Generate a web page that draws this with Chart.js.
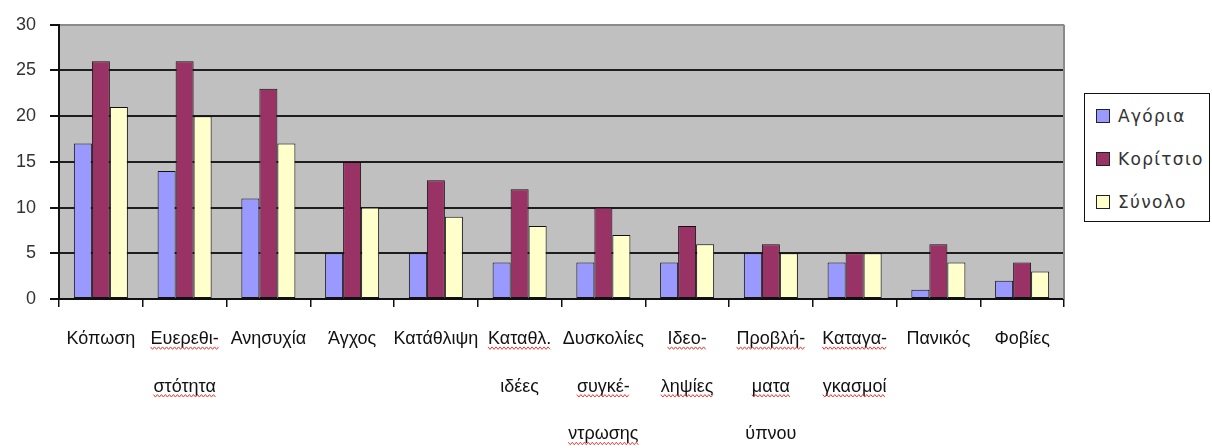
<!DOCTYPE html>
<html>
<head>
<meta charset="utf-8">
<script src="https://cdn.jsdelivr.net/npm/chart.js@4"></script>
<style>
  body{margin:0;background:#fff;}
  #wrap{position:relative;width:1212px;height:448px;}
  #legend{position:absolute;left:1084px;top:93px;width:124px;height:127px;border:1.5px solid #111;background:#fff;
    font-family:"DejaVu Sans",sans-serif;font-size:17px;color:#333;letter-spacing:1.3px;}
  #legend .item{position:absolute;left:11px;height:20px;line-height:20px;white-space:nowrap;}
  #legend .sw{display:inline-block;width:12px;height:12px;border:1px solid #222;vertical-align:middle;margin-right:8px;margin-top:-3px;}
</style>
</head>
<body>
<div id="wrap">
  <canvas id="chart"></canvas>
  <div id="legend"></div>
</div>
<script>
// Categories (multi-line as in the original)
const CATEGORIES = [
  ['Κόπωση'], ['Ευερεθι-','στότητα'], ['Ανησυχία'], ['Άγχος'], ['Κατάθλιψη'],
  ['Καταθλ.','ιδέες'], ['Δυσκολίες','συγκέ-','ντρωσης'], ['Ιδεο-','ληψίες'],
  ['Προβλή-','ματα','ύπνου'], ['Καταγα-','γκασμοί'], ['Πανικός'], ['Φοβίες']
];
// words carrying the red spell-check squiggle in the original
const MISSPELLED = ['Ευερεθι-','στότητα','Καταθλ.','συγκέ-','ντρωσης','Ιδεο-','ληψίες','Προβλή-','ματα','Καταγα-','γκασμοί'];
const SERIES_NAMES = ['Αγόρια','Κορίτσιο','Σύνολο'];
const BOYS  = [17,14,11,5,5,4,4,4,5,4,1,2];
const GIRLS = [26,26,23,15,13,12,10,8,6,5,6,4];
const TOTAL = [21,20,17,10,9,8,7,6,5,5,4,3];
const Y_MAX = 30, Y_STEP = 5;

const COLORS = ['#9999FF','#993366','#FFFFCC'];
const X_FONT = 18, X_LINE = 2.65, X_PAD = 8, X_TICK = 8;

// gray plot area, right border, squiggles
const plotBg = {
  id:'plotBg',
  beforeDraw(chart){
    const {ctx, chartArea:a} = chart;
    ctx.save();
    ctx.fillStyle = '#C0C0C0';
    ctx.fillRect(a.left, a.top, a.right-a.left, a.bottom-a.top);
    ctx.restore();
  },
  afterDatasetsDraw(chart){
    const {ctx, chartArea:a} = chart;
    ctx.save();
    ctx.strokeStyle = '#8a8a8a';
    ctx.lineWidth = 2;
    ctx.beginPath();
    ctx.moveTo(a.right, a.top); ctx.lineTo(a.right, a.bottom);
    ctx.stroke();
    ctx.restore();
  },
  afterDraw(chart){
    const ctx = chart.ctx, xs = chart.scales.x;
    const lh = X_FONT * X_LINE;
    ctx.save();
    ctx.font = `${X_FONT}px "Liberation Sans"`;
    ctx.strokeStyle = '#e03c3c';
    ctx.lineWidth = 1;
    CATEGORIES.forEach((lines,i)=>{
      const cx = xs.getPixelForTick(i);
      lines.forEach((w,j)=>{
        if(!MISSPELLED.includes(w)) return;
        const tw = ctx.measureText(w).width;
        const y = xs.top + X_TICK + X_PAD + lh*(j+0.5) + 8;
        ctx.beginPath();
        for(let x=cx-tw/2, k=0; x<=cx+tw/2; x+=2, k++){
          const yy = y + (k%2 ? 2.5 : 0);
          k===0 ? ctx.moveTo(x,yy) : ctx.lineTo(x,yy);
        }
        ctx.stroke();
      });
    });
    ctx.restore();
  }
};

const chart = new Chart(document.getElementById('chart'), {
  type:'bar',
  data:{
    labels:CATEGORIES,
    datasets:[BOYS,GIRLS,TOTAL].map((d,i)=>({
      label:SERIES_NAMES[i], data:d, backgroundColor:COLORS[i],
      borderColor:'#111', borderWidth:1, borderSkipped:false,
      categoryPercentage:0.645, barPercentage:1
    }))
  },
  options:{
    responsive:true, maintainAspectRatio:false, animation:false,
    layout:{padding:{left:0,top:19,right:148,bottom:0}},
    plugins:{legend:{display:false}, tooltip:{enabled:false}},
    scales:{
      x:{
        grid:{drawOnChartArea:false, tickLength:X_TICK, color:'#111', lineWidth:1.5},
        border:{color:'#111', width:2},
        ticks:{font:{family:'"Liberation Sans"',size:X_FONT,lineHeight:X_LINE}, color:'#111', padding:X_PAD, maxRotation:0, autoSkip:false},
        afterFit(s){ s.height = 149; }
      },
      y:{
        min:0, max:Y_MAX,
        grid:{color:c=>c.tick && c.tick.value===Y_MAX ? '#8a8a8a' : '#1e1e1e', lineWidth:2, tickLength:9, tickColor:'#111'},
        border:{color:'#111', width:2},
        ticks:{stepSize:Y_STEP, font:{family:'"Liberation Sans"',size:18}, color:'#333', padding:14},
        afterFit(s){ s.width = 59; }
      }
    }
  },
  plugins:[plotBg]
});

// html legend
const legend = document.getElementById('legend');
SERIES_NAMES.forEach((n,i)=>{
  const div = document.createElement('div');
  div.className = 'item';
  div.style.top = (12 + i*43) + 'px';
  div.innerHTML = `<span class="sw" style="background:${COLORS[i]}"></span>${n}`;
  legend.appendChild(div);
});
</script>
</body>
</html>
